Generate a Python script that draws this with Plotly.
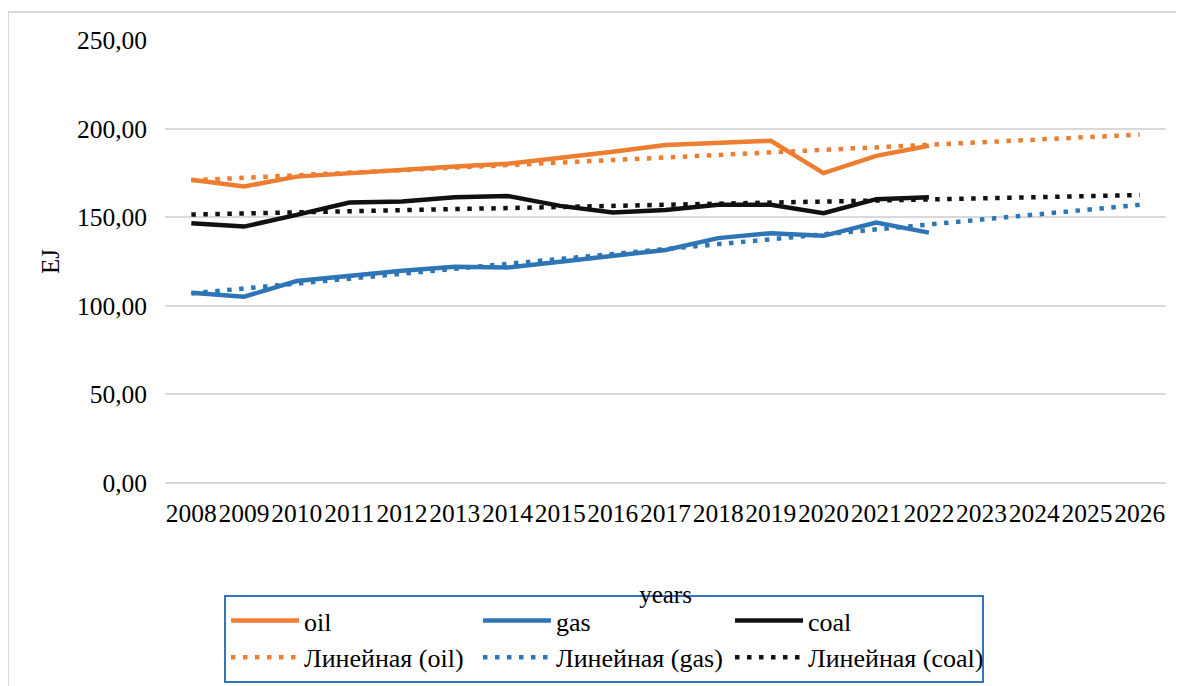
import plotly.graph_objects as go

# ---------------- data ----------------
years = [str(y) for y in range(2008, 2027)]
data_years = [str(y) for y in range(2008, 2023)]

oil = [171.1, 167.3, 172.9, 174.8, 177.1, 178.6, 180.1, 183.3, 187.0, 190.8,
       192.1, 193.1, 174.9, 184.6, 190.3]
gas = [107.4, 105.1, 114.0, 117.0, 119.8, 122.0, 121.6, 124.9, 128.1, 131.5,
       138.2, 141.0, 139.5, 147.0, 141.3]
coal = [146.6, 144.7, 151.3, 158.3, 158.8, 161.3, 162.0, 156.4, 152.6, 154.1,
        157.0, 157.0, 152.3, 160.2, 161.3]

# linear trend lines (Excel "Линейная"), endpoints
trend_years = ["2008", "2026"]
trend_oil = [170.8, 196.6]
trend_gas = [107.0, 157.0]
trend_coal = [151.5, 162.5]

series_names = ["oil", "gas", "coal"]
trend_names = ["Линейная (oil)", "Линейная (gas)", "Линейная (coal)"]

# ---------------- style ----------------
C_OIL = "#ED7D31"
C_GAS = "#2E75B6"
C_COAL = "#111111"
FONT = "Liberation Serif"

OFF = 8  # page body margin
W, H = 1184 - OFF, 686 - OFF
L, R, T, B = 165 - OFF, 18, 40 - OFF, 203
PW, PH = W - L - R, H - T - B


def px_x(x):
    return (x - OFF - L) / PW


def px_y(y):
    return (H - B - (y - OFF)) / PH


fig = go.Figure()
for name, vals, col in zip(series_names, [oil, gas, coal], [C_OIL, C_GAS, C_COAL]):
    fig.add_trace(go.Scatter(x=data_years, y=vals, name=name, mode="lines",
                             line=dict(color=col, width=4.5)))
for name, vals, col in zip(trend_names, [trend_oil, trend_gas, trend_coal],
                           [C_OIL, C_GAS, C_COAL]):
    fig.add_trace(go.Scatter(x=trend_years, y=vals, name=name, mode="lines",
                             line=dict(color=col, width=4.5, dash="4.5px,7.5px")))

fig.update_layout(
    width=W, height=H,
    margin=dict(l=L, r=R, t=T, b=B, autoexpand=False),
    paper_bgcolor="white", plot_bgcolor="white",
    separators=", ",
    font=dict(family=FONT, size=25, color="#000000"),
    showlegend=True,
    legend=dict(
        orientation="h",
        x=px_x(224), xanchor="left",
        y=px_y(595), yanchor="top",
        bgcolor="white",
        bordercolor="#3673BE", borderwidth=2,
        font=dict(family=FONT, size=26, color="#000000"),
        itemwidth=68,
        entrywidth=169,
        traceorder="normal",
    ),
    xaxis=dict(
        type="category",
        categoryorder="array", categoryarray=years,
        range=[-0.5, len(years) - 0.5],
        showgrid=False, zeroline=False, showline=False,
        ticks="", ticklabelstandoff=12, tickangle=0, automargin=False,
        tickfont=dict(family=FONT, size=25.5),
        title=dict(text="years", standoff=58, font=dict(family=FONT, size=25)),
    ),
    yaxis=dict(
        range=[0, 250], tickmode="array",
        tickvals=[0, 50, 100, 150, 200, 250],
        tickformat=".2f", automargin=False,
        showgrid=True, gridcolor="#D9D9D9", gridwidth=1.5,
        zeroline=True, zerolinecolor="#D9D9D9", zerolinewidth=1.5,
        showline=False, ticks="", ticklabelstandoff=17,
        tickfont=dict(family=FONT, size=25.5),
        title=dict(text="EJ", standoff=10, font=dict(family=FONT, size=25)),
    ),
    shapes=[dict(type="rect", xref="paper", yref="paper",
                 x0=px_x(8), x1=px_x(1200), y0=px_y(700), y1=px_y(12),
                 line=dict(color="#D9D9D9", width=2), fillcolor="rgba(0,0,0,0)",
                 layer="below")],
)

fig.write_html("out.html")
